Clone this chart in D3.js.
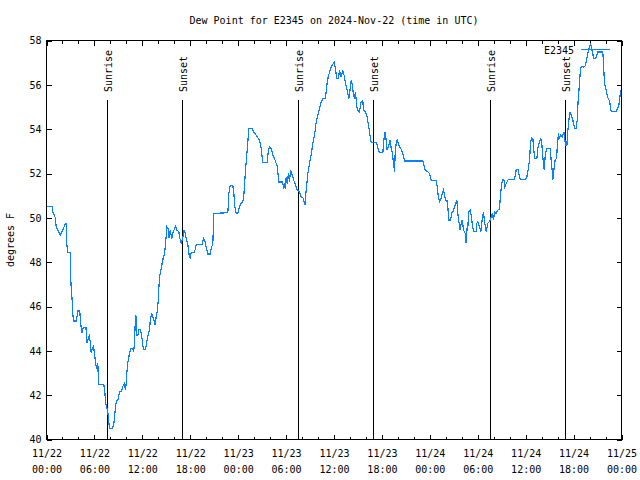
<!DOCTYPE html>
<html><head><meta charset="utf-8">
<script src="https://cdn.jsdelivr.net/npm/d3@7"></script>
<style>
body{margin:0;background:#fff}
svg text{font-family:"DejaVu Sans Mono",monospace;font-size:10px;fill:#000}
</style>
</head><body>
<svg id="chart" width="640" height="480"></svg>
<script>
const chartTitle = "Dew Point for E2345 on 2024-Nov-22 (time in UTC)";
const yAxisTitle = "degrees F";
const stationName = "E2345";
const startTime = "2024-11-22T00:00:00Z";
const spanHours = 72;
const yDomain = [40, 58];
const yTickValues = [40, 42, 44, 46, 48, 50, 52, 54, 56, 58];
const xMajorStepHours = 6;
const xMinorStepHours = 2;
const sunLabels = ["Sunrise", "Sunset", "Sunrise", "Sunset", "Sunrise", "Sunset"];
const sunTimes = ["2024-11-22T07:38Z", "2024-11-22T17:02Z", "2024-11-23T07:34Z",
                  "2024-11-23T16:57Z", "2024-11-24T07:36Z", "2024-11-24T16:59Z"];
// [hours since start, dew point °F]
const dewPointObs = [
[0.04,50.5],[0.79,50.5],[0.79,50.27],[1.09,50.02],[1.21,49.6],[1.71,49.22],[2.05,49.45],[2.38,49.75],[2.5,49.75],[2.55,48.78],[2.67,48.45],[2.96,48.45],[2.96,47.83],[3.09,46.9],[3.21,46.27],[3.3,45.62],[3.42,45.35],[3.71,45.35],[3.84,45.6],[3.92,45.8],[4.17,45.8],[4.21,45.55],[4.34,45.05],[4.46,44.8],[4.55,45.0],[4.68,45.07],[4.93,45.07],[5.01,44.72],[5.09,44.35],[5.26,44.6],[5.38,44.68],[5.51,44.27],[5.59,43.93],[5.72,44.1],[5.89,44.2],[6.01,43.87],[6.14,43.45],[6.3,43.18],[6.43,43.45],[6.47,42.97],[6.55,42.47],[7.18,42.47],[7.3,42.17],[7.39,41.68],[7.55,41.45],[7.68,41.23],[7.8,40.75],[7.93,40.5],[8.22,40.5],[8.39,40.63],[8.51,40.95],[8.64,41.5],[8.77,41.75],[8.93,41.75],[9.06,42.0],[9.14,42.17],[9.39,42.17],[9.56,42.4],[9.73,42.52],[9.89,42.25],[9.98,42.55],[10.06,43.0],[10.19,43.48],[10.31,43.7],[10.39,43.9],[10.6,44.12],[10.73,44.12],[10.93,44.0],[11.02,44.42],[11.1,45.17],[11.19,45.62],[11.27,44.95],[11.35,44.68],[11.44,44.68],[11.56,44.98],[11.73,44.98],[11.85,44.8],[11.98,44.5],[12.14,44.05],[12.39,44.05],[12.56,44.42],[12.77,44.77],[12.9,44.98],[13.02,45.47],[13.19,45.65],[13.31,45.52],[13.44,45.4],[13.61,45.17],[13.73,45.52],[13.86,45.77],[13.98,46.22],[14.15,47.35],[14.36,47.72],[14.48,47.95],[14.61,48.18],[14.78,48.4],[14.9,48.78],[15.07,49.6],[15.23,49.5],[15.32,49.07],[15.49,49.45],[15.69,49.07],[15.82,49.3],[16.03,49.52],[16.15,49.62],[16.32,49.45],[16.57,49.37],[16.7,49.07],[16.86,48.86],[17.07,49.1],[17.24,49.45],[17.36,49.3],[17.49,49.1],[17.7,48.78],[17.86,48.33],[17.99,48.17],[18.12,48.45],[18.49,48.45],[18.66,48.6],[18.74,48.78],[19.45,48.78],
[19.66,49.07],[19.87,48.9],[20.08,48.55],[20.2,48.37],[20.49,48.37],[20.62,48.6],[20.83,48.85],[20.95,50.2],[22.71,50.23],[22.83,51.1],[23.0,51.47],[23.33,51.47],[23.46,51.1],[23.58,50.5],[23.75,50.2],[23.96,50.23],[24.17,50.5],[24.38,50.65],[24.58,50.72],[24.71,51.02],[24.92,52.15],[25.13,53.05],[25.34,54.02],[25.75,54.02],[25.92,53.87],[26.17,53.77],[26.46,53.62],[26.67,53.5],[26.88,53.13],[27.09,52.48],[27.63,52.48],[27.76,52.97],[27.92,53.2],[28.13,53.13],[28.34,52.83],[28.59,52.63],[28.88,52.33],[29.09,51.62],[29.51,51.62],[29.68,51.4],[29.8,51.55],[29.89,51.32],[30.01,51.85],[30.14,51.55],[30.3,52.0],[30.43,51.62],[30.55,52.15],[30.72,52.0],[30.93,51.73],[31.18,51.47],[31.35,51.28],[31.68,51.18],[31.89,50.95],[32.1,50.92],[32.22,50.77],[32.35,50.57],[32.52,51.25],[32.72,52.0],[32.93,52.45],[33.14,52.83],[33.35,53.35],[33.56,53.72],[33.77,54.32],[33.98,54.62],[34.19,54.92],[34.39,55.22],[34.6,55.37],[34.89,55.4],[35.02,55.67],[35.15,56.12],[35.27,56.35],[35.44,56.57],[35.65,56.8],[35.85,56.92],[36.02,57.02],[36.15,56.8],[36.35,56.28],[36.56,56.28],[36.69,56.65],
[36.9,56.35],[37.11,56.65],[37.32,56.35],[37.44,56.05],[37.61,55.83],[37.73,55.6],[37.86,55.38],[38.03,55.83],[38.15,56.2],[38.28,56.05],[38.44,55.53],[38.57,55.38],[38.69,55.68],[38.86,55.0],[38.99,54.85],[39.19,54.78],[39.4,55.23],[39.61,55.3],[39.69,54.85],[39.9,54.78],[40.11,54.63],[40.24,54.33],[40.36,54.1],[40.53,53.65],[40.65,53.4],[41.28,53.4],[41.41,53.28],[41.57,53.05],[41.7,52.95],[42.12,52.95],[42.24,53.5],[42.41,53.88],[42.53,53.5],[42.66,53.05],[42.87,53.28],[43.03,53.5],[43.16,53.13],[43.28,52.98],[43.45,52.45],[43.58,52.08],[43.66,52.9],[43.79,53.35],[43.91,53.5],[44.08,53.35],[44.2,53.2],[44.41,53.1],[44.62,52.9],[44.83,52.56],[47.12,52.56],[47.25,52.38],[47.42,52.15],[47.75,52.08],[47.96,52.0],[48.17,51.7],[48.79,51.7],[48.92,51.4],[49.04,51.03],[49.21,50.73],[49.42,50.88],[49.55,51.1],[49.71,51.25],[49.84,51.03],[49.96,50.8],[50.13,50.8],[50.25,50.5],[50.38,49.9],[50.59,49.9],[50.76,50.23],[50.88,50.28],[51.01,50.38],[51.21,50.65],[51.38,50.8],[51.51,50.2],[51.63,49.83],[51.8,49.45],[51.92,49.75],[52.05,49.9],[52.22,49.45],[52.43,49.3],[52.55,48.85],[52.68,49.6],[52.76,49.6],[52.88,50.28],[53.05,50.35],[53.18,50.13],[53.3,49.75],[53.47,49.38],[53.8,49.38],[53.89,49.75],[54.01,49.83],[54.22,49.6],[54.39,49.38],[54.55,49.9],[54.72,50.28],[54.85,49.83],[54.97,49.6],[55.05,49.38],[55.26,49.75],[55.47,49.83],[55.56,49.9],[55.81,50.2],[55.97,49.9],[56.1,50.28],[56.31,50.2],[56.52,50.35],[56.72,50.4],
[56.85,51.03],[56.97,51.48],[57.14,51.73],[57.27,51.73],[57.39,51.4],[57.56,51.55],[57.69,51.63],[57.81,51.73],[58.6,51.73],[58.81,52.15],[59.06,52.18],[59.23,51.85],[59.35,51.73],[59.98,51.73],[60.15,51.85],[60.31,52.15],[60.48,52.6],[60.61,53.35],[60.73,53.62],[60.9,53.58],[61.02,53.05],[61.15,52.68],[61.4,52.68],[61.52,53.13],[61.73,53.43],[61.9,53.58],[62.03,53.28],[62.15,52.75],[62.32,52.15],[62.44,52.75],[62.57,53.05],[62.65,53.13],[63.07,53.13],[63.19,52.6],[63.32,52.15],[63.4,51.73],[63.53,52.15],[63.69,52.6],[63.86,52.68],[63.99,53.35],[64.11,53.8],[64.24,53.58],[64.36,53.73],[64.57,53.65],[64.78,53.88],[64.91,53.5],[64.99,53.28],[65.16,53.28],[65.28,53.95],[65.41,54.4],[65.53,54.78],[65.7,54.63],[65.91,54.4],[66.12,54.03],[66.32,54.03],[66.45,54.4],[66.57,55.3],[66.74,56.05],[66.87,56.77],[67.03,56.83],[67.24,56.8],[67.41,56.83],[67.58,57.02],[67.7,57.25],[67.83,57.52],[67.99,57.7],[68.12,57.88],[68.25,57.63],[68.41,57.4],[68.5,57.18],[68.75,57.18],[68.91,57.33],[69.04,57.48],[69.66,57.48],[69.75,56.95],[69.87,56.05],[70.08,55.75],[70.21,55.53],[70.33,55.38],[70.5,55.27],[70.62,55.0],[70.71,54.78],[71.33,54.78],[71.5,54.93],[71.67,55.08],[71.8,55.45],[71.88,55.75]
];

const svg = d3.select("#chart");
const L = 46.5, R = 621.5, T = 40.5, B = 439.5;
const HOUR = 3600e3;
const t0 = new Date(startTime);
const t1 = new Date(+t0 + spanHours * HOUR);
const x = d3.scaleUtc().domain([t0, t1]).range([L, R]);
const y = d3.scaleLinear().domain(yDomain).range([B, T]);
const hrs = step => d3.range(0, spanHours + 0.001, step).map(h => new Date(+t0 + h * HOUR));
const majorTicks = hrs(xMajorStepHours);
const minorTicks = hrs(xMinorStepHours);
const fmtDate = d3.utcFormat("%m/%d"), fmtTime = d3.utcFormat("%H:%M");

function styleAxis(g){
  g.select(".domain").remove();
  g.selectAll("line").attr("stroke","#000").attr("shape-rendering","crispEdges");
  g.attr("font-family",null).attr("font-size",null);
}

svg.append("g").attr("transform",`translate(0,${B})`)
  .call(d3.axisBottom(x).tickValues(minorTicks).tickSize(-3).tickFormat("")).call(styleAxis);
svg.append("g").attr("transform",`translate(0,${T})`)
  .call(d3.axisTop(x).tickValues(minorTicks).tickSize(-3).tickFormat("")).call(styleAxis);
const xb = svg.append("g").attr("transform",`translate(0,${B})`)
  .call(d3.axisBottom(x).tickValues(majorTicks).tickSize(-5).tickFormat("")).call(styleAxis);
xb.selectAll(".tick").each(function(d){
  const t = d3.select(this).append("text").attr("text-anchor","middle");
  t.append("tspan").attr("x",0).attr("y",17).text(fmtDate(d));
  t.append("tspan").attr("x",0).attr("y",33).text(fmtTime(d));
});
svg.append("g").attr("transform",`translate(0,${T})`)
  .call(d3.axisTop(x).tickValues(majorTicks).tickSize(-5).tickFormat("")).call(styleAxis);
svg.append("g").attr("transform",`translate(${L},0)`)
  .call(d3.axisLeft(y).tickValues(yTickValues).tickSize(-5).tickPadding(5)).call(styleAxis)
  .selectAll("text").attr("fill","#000");
svg.append("g").attr("transform",`translate(${R},0)`)
  .call(d3.axisRight(y).tickValues(yTickValues).tickSize(-5).tickFormat("")).call(styleAxis);

svg.append("rect").attr("x",L).attr("y",T).attr("width",R-L).attr("height",B-T)
  .attr("fill","none").attr("stroke","#000").attr("shape-rendering","crispEdges");

const sunTop = 100;
sunTimes.forEach((s,i)=>{
  const sx = Math.round(x(new Date(s))-0.5)+0.5;
  svg.append("line").attr("x1",sx).attr("x2",sx).attr("y1",sunTop).attr("y2",B)
    .attr("stroke","#000").attr("shape-rendering","crispEdges");
  svg.append("text").attr("transform",`translate(${sx+1},92) rotate(-90)`)
    .attr("dominant-baseline","central").attr("text-anchor","start").text(sunLabels[i]);
});

const line = d3.line().x(d=>x(new Date(+t0 + d[0]*HOUR))).y(d=>y(d[1]));
svg.append("path").datum(dewPointObs).attr("d",line)
  .attr("fill","none").attr("stroke","#0a80ff").attr("stroke-width",1.2)
  .attr("shape-rendering","crispEdges");

svg.append("text").attr("x",574).attr("y",54).attr("text-anchor","end").text(stationName);
svg.append("line").attr("x1",581).attr("x2",610).attr("y1",49.5).attr("y2",49.5)
  .attr("stroke","#0a80ff").attr("shape-rendering","crispEdges");

svg.append("text").attr("x",(L+R)/2).attr("y",24).attr("text-anchor","middle").text(chartTitle);
svg.append("text").attr("transform",`translate(10,${(T+B)/2}) rotate(-90)`)
  .attr("text-anchor","middle").attr("dominant-baseline","central").text(yAxisTitle);
</script>
</body></html>
